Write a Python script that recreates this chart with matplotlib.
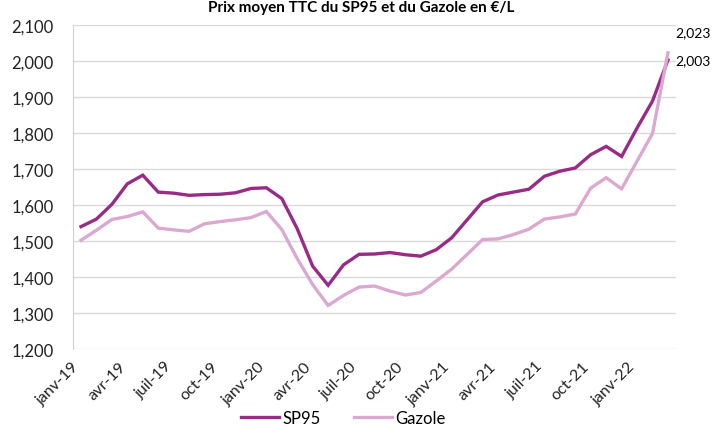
import matplotlib

matplotlib.use("Agg")
import matplotlib.pyplot as plt
from matplotlib.ticker import FuncFormatter
from matplotlib.transforms import ScaledTranslation

plt.rcParams["font.family"] = ["Lato", "DejaVu Sans"]

# Monthly average retail prices, janv-19 .. mars-22
months = [
    "janv-19", "févr-19", "mars-19", "avr-19", "mai-19", "juin-19",
    "juil-19", "août-19", "sept-19", "oct-19", "nov-19", "déc-19",
    "janv-20", "févr-20", "mars-20", "avr-20", "mai-20", "juin-20",
    "juil-20", "août-20", "sept-20", "oct-20", "nov-20", "déc-20",
    "janv-21", "févr-21", "mars-21", "avr-21", "mai-21", "juin-21",
    "juil-21", "août-21", "sept-21", "oct-21", "nov-21", "déc-21",
    "janv-22", "févr-22", "mars-22",
]
sp95 = [
    1540, 1561, 1602, 1659, 1683, 1636, 1633, 1627, 1629, 1630, 1634, 1646,
    1648, 1618, 1534, 1430, 1377, 1434, 1463, 1464, 1468, 1462, 1458, 1476,
    1509, 1559, 1609, 1628, 1636, 1644, 1680, 1694, 1703, 1740, 1763, 1735,
    1814, 1889, 2003,
]
gazole = [
    1502, 1530, 1560, 1568, 1581, 1536, 1531, 1527, 1548, 1554, 1559, 1565,
    1582, 1532, 1451, 1379, 1321, 1349, 1372, 1375, 1361, 1350, 1357, 1389,
    1422, 1463, 1504, 1506, 1518, 1533, 1561, 1567, 1575, 1647, 1676, 1645,
    1722, 1799, 2023,
]
tick_labels = [
    "janv-19", "avr-19", "juil-19", "oct-19", "janv-20", "avr-20", "juil-20",
    "oct-20", "janv-21", "avr-21", "juil-21", "oct-21", "janv-22",
]

SP95_COLOR = "#982B86"
GAZ_COLOR = "#DBA8D2"

fig = plt.figure(figsize=(7.15, 4.35), dpi=100)
ax = fig.add_axes([0.1025, 0.1954, 0.8425, 0.7446])

x = list(range(len(months)))
ax.plot(x, sp95, color=SP95_COLOR, lw=2.4, label="SP95", solid_joinstyle="miter")
ax.plot(x, gazole, color=GAZ_COLOR, lw=2.4, label="Gazole", solid_joinstyle="miter")

# end-of-series value labels
ax.annotate(f"{gazole[-1] / 1000:.3f}".replace(".", ","), (x[-1], gazole[-1]),
            xytext=(5, 15), textcoords="offset points", fontsize=10,
            va="center", ha="left", annotation_clip=False)
ax.annotate(f"{sp95[-1] / 1000:.3f}".replace(".", ","), (x[-1], sp95[-1]),
            xytext=(5, 0), textcoords="offset points", fontsize=10,
            va="center", ha="left", annotation_clip=False)

ax.set_xlim(-0.5, len(months) - 0.5)
ax.set_ylim(1200, 2100)
ax.set_yticks(range(1200, 2101, 100))
ax.yaxis.set_major_formatter(FuncFormatter(lambda v, _: f"{v:,.0f}"))
ax.set_xticks([months.index(t) for t in tick_labels])
ax.set_xticklabels(tick_labels, rotation=45, ha="right", rotation_mode="anchor")
ax.tick_params(axis="both", length=0, labelsize=11.5, colors="#222222")
ax.tick_params(axis="y", pad=14, labelsize=12)
ax.tick_params(axis="x", pad=7)

# Excel-style rotated labels end a little left of their tick
shift = ScaledTranslation(-0.09, 0, fig.dpi_scale_trans)
for lab in ax.get_xticklabels():
    lab.set_transform(lab.get_transform() + shift)

ax.grid(axis="y", color="#D9D9D9", lw=1)
ax.set_axisbelow(True)
for side in ("top", "right", "bottom"):
    ax.spines[side].set_visible(False)
ax.spines["left"].set_color("#D0D0D0")

fig.legend(loc="lower center", bbox_to_anchor=(0.48, -0.015), ncol=2,
           frameon=False, fontsize=12, handlelength=2.3, handletextpad=0.2,
           columnspacing=2.0)

fig.text(0.505, 0.998, "Prix moyen TTC du SP95 et du Gazole en €/L",
         ha="center", va="top", fontsize=11, fontweight="bold")

fig.savefig("out.png", dpi=100)
